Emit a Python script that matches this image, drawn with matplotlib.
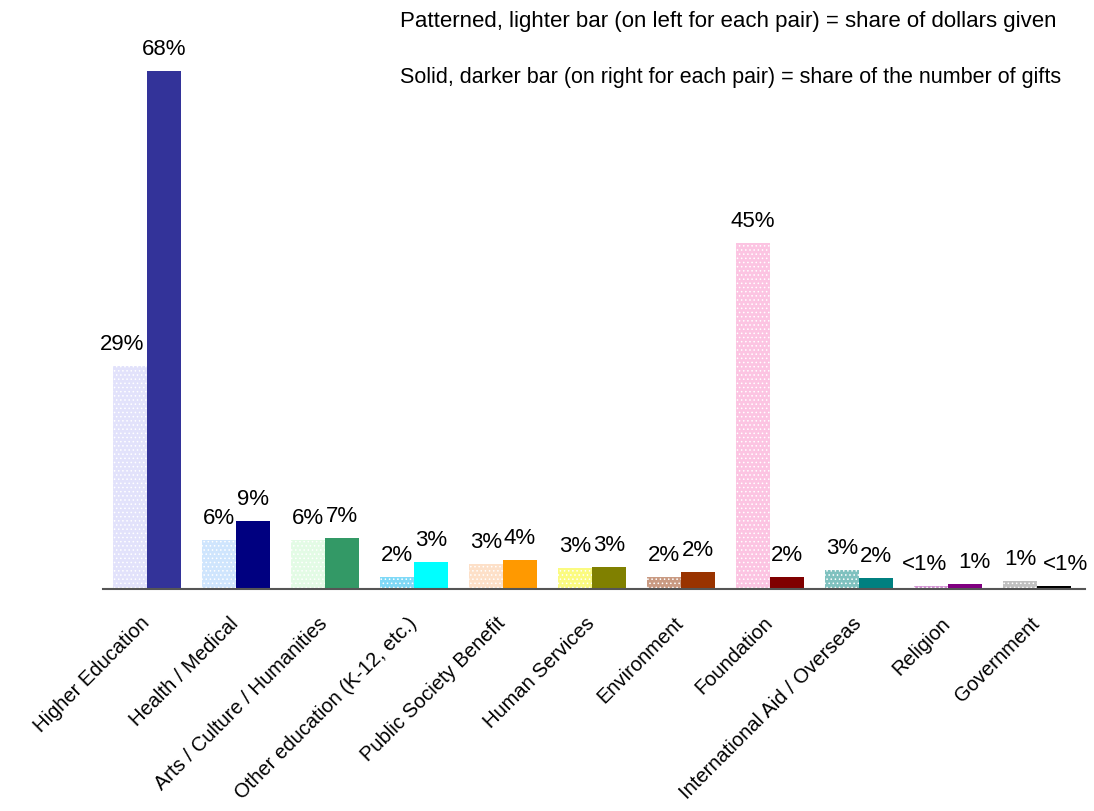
import matplotlib
matplotlib.use('Agg')
import matplotlib.pyplot as plt
from matplotlib.transforms import ScaledTranslation
import numpy as np

categories = ['Higher Education', 'Health / Medical', 'Arts / Culture / Humanities',
              'Other education (K-12, etc.)', 'Public Society Benefit', 'Human Services',
              'Environment', 'Foundation', 'International Aid / Overseas', 'Religion',
              'Government']
dollars_share = [29.2, 6.4, 6.4, 1.6, 3.3, 2.8, 1.6, 45.4, 2.5, 0.4, 1.0]
gifts_share = [68.0, 8.9, 6.7, 3.6, 3.8, 2.9, 2.2, 1.6, 1.4, 0.7, 0.4]
dollars_labels = ['29%', '6%', '6%', '2%', '3%', '3%', '2%', '45%', '3%', '<1%', '1%']
gifts_labels = ['68%', '9%', '7%', '3%', '4%', '3%', '2%', '2%', '2%', '1%', '<1%']

light_colors = ['#e2e2fb', '#cfe5fd', '#e3fbe5', '#7fd9f7', '#fde0c8', '#fbfb80',
                '#c99a82', '#fcc4e2', '#7fc1bf', '#d394d3', '#c0c0c0']
dark_colors = ['#333399', '#000080', '#339966', '#00ffff', '#ff9900', '#808000',
               '#993300', '#800000', '#008080', '#800080', '#000000']

plt.rcParams['font.family'] = ['Liberation Sans', 'DejaVu Sans']
plt.rcParams['hatch.linewidth'] = 0.6

fig = plt.figure(figsize=(10.94, 8.12), dpi=100)
ax = fig.add_axes([0.0941, 0.2734, 0.8977, 0.6569])

x = np.arange(len(categories))
w = 0.382
ax.bar(x - w / 2, dollars_share, w, color=light_colors, edgecolor='white',
       hatch='....', linewidth=0)
ax.bar(x + w / 2, gifts_share, w, color=dark_colors, linewidth=0)

# small nudges (pixels) for a few labels
nudge_light = {0: (-8, 0), 9: (-6, 0)}
nudge_dark = {9: (9, 0), 10: (12, 0)}

for i in range(len(categories)):
    dx, dy = nudge_light.get(i, (0, 0))
    ax.annotate(dollars_labels[i], (x[i] - w / 2, dollars_share[i]),
                xytext=(dx, 17 + dy), textcoords='offset pixels',
                ha='center', va='baseline', fontsize=16)
    dx, dy = nudge_dark.get(i, (0, 0))
    ax.annotate(gifts_labels[i], (x[i] + w / 2, gifts_share[i]),
                xytext=(dx, 17 + dy), textcoords='offset pixels',
                ha='center', va='baseline', fontsize=16)

ax.set_xlim(-0.494, 10.54)
ax.set_ylim(0, 70)
ax.set_yticks([])
ax.set_xticks(x)
ax.set_xticklabels(categories, rotation=45, ha='right', rotation_mode='anchor', fontsize=14.5)
ax.tick_params(axis='x', length=0, pad=17)
shift = ScaledTranslation(-7 / 100, 0, fig.dpi_scale_trans)
for lab in ax.get_xticklabels():
    lab.set_transform(lab.get_transform() + shift)
for s in ['top', 'right', 'left']:
    ax.spines[s].set_visible(False)
ax.spines['bottom'].set_color('#555555')
ax.spines['bottom'].set_linewidth(1.5)

fig.text(400 / 1094, 1 - 27 / 812,
         'Patterned, lighter bar (on left for each pair) = share of dollars given',
         fontsize=16, ha='left', va='baseline')
fig.text(400 / 1094, 1 - 83 / 812,
         'Solid, darker bar (on right for each pair) = share of the number of gifts',
         fontsize=15.5, ha='left', va='baseline')

fig.savefig('out.png', dpi=100)
